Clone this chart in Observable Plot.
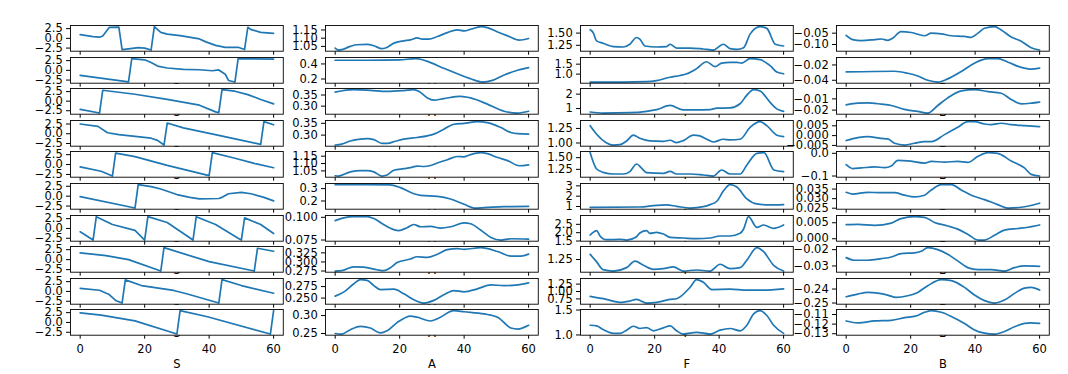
<!DOCTYPE html>
<html><head><meta charset="utf-8">
<script src="https://cdn.jsdelivr.net/npm/d3@7"></script>
<script src="https://cdn.jsdelivr.net/npm/@observablehq/plot@0.6"></script>
<style>
html,body{margin:0;padding:0;background:#fff;}
#chart{position:relative;width:1068px;height:374px;overflow:hidden;background:#fff;}
#chart svg{position:absolute;}
</style></head><body><div id="chart"></div>
<script>
// ---- data: [x, value] pairs ----
const s1 = [[0,0.95],[2,0.7],[4,0.45],[6,0.3],[7,0.6],[8,1.7],[9,2.8],[12,2.9],[13,-2.9],[15,-2.7],[18,-2.4],[20,-2.5],[22,-3.0],[23,3.0],[25,1.55],[27,1.1],[31,0.7],[37,-0.15],[39,-0.9],[42,-1.8],[45,-2.3],[49,-2.3],[51,-2.85],[52,2.85],[53,2.25],[56,1.55],[60,1.3]];
const s2 = [[0,-1.3],[15,-2.95],[16,3.0],[20,2.7],[22,2.0],[24,1.1],[27,0.6],[32,0.25],[37,0.15],[41,-0.1],[43,0.1],[45,-1.0],[46,-2.6],[48,-3.0],[49,3.0],[60,2.9]];
const s3 = [[0,-2.15],[6,-3.1],[7,2.85],[17,1.8],[27,0.45],[37,-1.05],[42,-2.8],[43,-3.0],[44,3.0],[48,2.6],[52,1.7],[56,0.45],[60,-0.7]];
const s4 = [[0,2.5],[5.5,1.9],[8.5,0.25],[12,-0.25],[22,-1.15],[24,-1.7],[26,-2.9],[27,2.75],[32,1.5],[43,-0.4],[56,-2.75],[57,3.1],[60,2.3]];
const s5 = [[0,-0.6],[6.5,-1.7],[10,-2.9],[11,2.9],[17,2.0],[27,-0.2],[40,-2.8],[41,3.0],[48,1.6],[54,0.3],[60,-0.8]];
const s6 = [[0,-0.1],[17,-3.0],[18,2.9],[22,2.4],[25,1.8],[30,0.4],[34,-0.3],[37,-0.7],[43,-0.6],[44,-0.3],[46,0.6],[50,0.95],[53,0.6],[57,-0.3],[60,-1.2]];
const s7 = [[0,-0.85],[4,-2.95],[5,3.0],[10,1.0],[17,-0.5],[20,-2.95],[21,3.0],[27,1.5],[35,-2.95],[36,3.0],[42,1.0],[49,-2.5],[50,-2.95],[51,2.7],[56,1.0],[60,-1.3]];
const s8 = [[0,1.7],[8,1.0],[15,0.0],[25,-2.85],[26,3.0],[40,-0.5],[54,-2.85],[55,2.85],[60,2.1]];
const s9 = [[0,0.8],[6,0.3],[9,-0.8],[11,-2.3],[13,-2.95],[14,2.95],[19,1.5],[29,0.25],[33,-0.6],[43,-2.95],[44,3.0],[50,1.5],[60,-0.45]];
const s10 = [[0,2.45],[6.5,1.85],[17,0.4],[30,-2.95],[31,3.0],[39.5,1.45],[59,-2.95],[60,3.0]];

const a1 = [[0,1.04],[1,1.028],[2,1.03],[4.7,1.05],[6.7,1.06],[9.9,1.062],[12,1.054],[14.5,1.036],[15.6,1.04],[18.2,1.07],[21.3,1.084],[23.4,1.09],[25.4,1.102],[27,1.094],[29,1.094],[31.7,1.11],[34.8,1.134],[37.9,1.15],[40,1.144],[42,1.154],[45.2,1.17],[47.2,1.164],[50.4,1.138],[53.5,1.114],[57.1,1.088],[60,1.098]];
const a2 = [[0,0.449],[10,0.449],[20,0.455],[25,0.47],[26.5,0.462],[29.6,0.418],[33.7,0.342],[37.9,0.27],[42,0.204],[45.7,0.16],[48.8,0.182],[52.4,0.253],[56.6,0.316],[60,0.351]];
const a3 = [[0,0.363],[5.7,0.374],[10.9,0.371],[16.1,0.366],[21.3,0.37],[24.4,0.374],[26,0.366],[28.6,0.337],[30.6,0.327],[33.7,0.334],[38.9,0.344],[42,0.337],[47.2,0.309],[52.4,0.277],[56.6,0.269],[60,0.277]];
const a4 = [[0,0.258],[2,0.262],[4.7,0.275],[7.8,0.283],[9.9,0.285],[12,0.281],[14.5,0.265],[16.1,0.265],[18.7,0.274],[21.3,0.283],[25.4,0.29],[28.6,0.297],[30.6,0.304],[33.7,0.325],[36.8,0.346],[40,0.35],[44.1,0.357],[47.2,0.353],[51.4,0.332],[54.5,0.311],[56.6,0.306],[60,0.304]];
const a5 = [[0,1.017],[1,1.015],[4.7,1.043],[7.8,1.052],[9.9,1.052],[12,1.043],[14.5,1.015],[16.1,1.022],[18.2,1.054],[21.3,1.065],[23.4,1.072],[25.4,1.083],[27.5,1.08],[29.6,1.087],[31.7,1.104],[34.8,1.126],[37.9,1.148],[40,1.146],[42,1.161],[45.2,1.174],[47.2,1.167],[50.4,1.141],[53.5,1.12],[57.1,1.085],[60,1.091]];
const a6 = [[0,0.332],[10,0.332],[17,0.33],[20.2,0.308],[24.4,0.259],[26.5,0.246],[31.7,0.238],[35.8,0.216],[40,0.173],[43.1,0.143],[46.2,0.146],[52.4,0.154],[60,0.157]];
const a7 = [[0,0.0964],[2.6,0.0993],[5.7,0.1007],[9.9,0.1007],[12,0.0986],[15,0.0921],[18.2,0.0864],[19.7,0.0854],[22.3,0.0886],[24.4,0.0921],[26.5,0.0896],[29.6,0.09],[32.7,0.0882],[35.8,0.0896],[40,0.0939],[42,0.0929],[45.2,0.0857],[48.3,0.0779],[51.4,0.075],[54.5,0.0764],[60,0.076]];
const a8 = [[0,0.275],[2,0.2759],[5.7,0.2866],[8.8,0.2857],[13,0.2786],[15,0.276],[17.1,0.2839],[19.2,0.2982],[23.4,0.308],[25.4,0.3143],[28.6,0.3125],[31.7,0.3214],[34.8,0.3339],[37.9,0.3366],[40,0.3348],[45.2,0.3393],[50.4,0.3286],[54.5,0.3161],[57.6,0.3161],[60,0.3214]];
const a9 = [[0,0.2543],[2.6,0.2629],[5.7,0.2807],[7.8,0.29],[9.9,0.2886],[12,0.2771],[14,0.2686],[18.2,0.2693],[21.3,0.2593],[24.4,0.2464],[27.5,0.2393],[30.6,0.245],[33.7,0.2571],[36.8,0.2664],[40,0.2636],[44.1,0.27],[48.3,0.2786],[52.4,0.2771],[56.6,0.2786],[60,0.2829]];
const a10 = [[0,0.25],[2,0.2485],[4.7,0.2606],[7.8,0.2697],[10.9,0.2652],[14,0.2515],[16.1,0.2576],[19.2,0.2803],[23.4,0.2985],[25.4,0.2955],[29.6,0.2848],[32,0.2924],[36.8,0.3136],[40,0.3106],[46.2,0.3045],[50.4,0.2955],[54.5,0.2652],[56.6,0.2621],[60,0.2727]];

const f1 = [[0,1.569],[0.9,1.514],[2,1.34],[4,1.292],[7.2,1.222],[10.3,1.215],[12.3,1.271],[14.4,1.41],[15.4,1.375],[17,1.236],[20.6,1.215],[23.7,1.222],[24.8,1.271],[26.8,1.194],[31,1.194],[35.1,1.174],[38.2,1.153],[41.3,1.271],[43.4,1.181],[45.5,1.167],[47.6,1.201],[49.6,1.479],[52.7,1.632],[54.8,1.597],[57.4,1.271],[60,1.236]];
const f2 = [[0,0.603],[10,0.603],[17.5,0.621],[20.6,0.672],[24.8,0.845],[27.9,0.931],[30,1.017],[33,1.276],[36.1,1.621],[38.7,1.379],[40.8,1.552],[43.4,1.586],[45.5,1.586],[47,1.552],[49.6,1.776],[52.7,1.724],[55.9,1.414],[57.9,1.103],[60,1.017]];
const f3 = [[0,0.762],[4,0.69],[12.3,0.714],[17.5,0.81],[20.6,0.929],[24.8,1.214],[28.9,0.905],[33,0.905],[37.2,0.929],[39.3,1.024],[43.4,1.048],[46.5,1.333],[48.6,1.929],[50.7,2.31],[52.7,2.214],[55.9,1.405],[57.9,0.976],[60,0.81]];
const f4 = [[0,1.297],[2,1.151],[5,1.006],[7.2,0.965],[9.2,0.971],[11.3,1.035],[13.4,1.134],[15.4,1.081],[18.5,1.035],[22.7,1.029],[24.8,1.047],[26.8,1.006],[28.9,1.041],[32,1.134],[34,1.122],[36.2,1.064],[38.2,1.017],[41.3,1.064],[43.4,1.052],[46.5,1.064],[49.6,1.267],[52.7,1.366],[54.8,1.297],[57.9,1.134],[60,1.11]];
const f5 = [[0,1.607],[2,1.257],[4,1.186],[7.2,1.15],[10.3,1.15],[12.3,1.2],[14.4,1.364],[16,1.271],[17.5,1.179],[22.7,1.164],[24.8,1.207],[26.8,1.15],[31,1.15],[35.1,1.129],[38.2,1.107],[40.8,1.236],[43.4,1.15],[46.5,1.15],[48.6,1.343],[51.7,1.593],[53.9,1.607],[57,1.236],[60,1.2]];
const f6 = [[0,0.918],[15.4,0.951],[20.6,1.115],[23.7,1.148],[26.8,1.016],[31,0.852],[35.1,0.984],[37.2,1.18],[39.3,1.508],[41.3,2.492],[43.4,3.115],[45.5,2.885],[48.6,1.738],[51.7,1.246],[55.9,1.148],[60,1.18]];
const f7 = [[0,1.86],[0.9,2.02],[2,2.12],[3,1.82],[5,1.58],[9.2,1.6],[11.3,1.56],[14.4,1.76],[15.4,1.98],[17.5,2.12],[18.5,1.96],[20.6,2.02],[22.7,1.92],[24.8,1.72],[28.9,1.68],[33,1.64],[37.2,1.68],[40.3,1.8],[43.4,1.8],[46.5,1.96],[47.6,2.22],[49.1,2.96],[51.7,2.32],[53.8,2.46],[56.9,2.26],[60,2.46]];
const f8 = [[0,1.349],[2,1.204],[4,1.053],[7.2,1.026],[11.3,1.092],[13.9,1.217],[16.5,1.138],[19.6,1.059],[22.7,1.072],[25.8,1.105],[28.9,1.026],[33,1.046],[37.2,1.026],[40.3,1.158],[43.4,1.072],[46.5,1.092],[48.6,1.237],[51.7,1.48],[53.8,1.401],[56.9,1.138],[60,1.026]];
const f9 = [[0,0.833],[5,0.733],[9.2,0.633],[12.3,0.678],[14.4,0.733],[17.5,0.611],[20.6,0.633],[24.8,0.733],[26.8,0.756],[31,1.144],[33,1.4],[35.1,1.311],[37.7,1.067],[43.4,1.078],[48.6,1.044],[53.8,1.044],[60,1.089]];
const f10 = [[0,1.195],[2,1.182],[4,1.11],[7.2,1.032],[9.2,1.032],[11.3,1.097],[13.4,1.175],[15.4,1.13],[17.5,1.149],[19.6,1.084],[22.7,1.143],[24.8,1.182],[26.8,1.084],[28.9,1.019],[33,1.052],[37.2,1.019],[40.3,1.097],[43.4,1.13],[46.5,1.084],[48.6,1.195],[50.7,1.422],[52.7,1.487],[54.8,1.39],[56.9,1.195],[60,1.032]];

const b1 = [[0,-0.06],[2,-0.0786],[4.7,-0.0829],[8.8,-0.0786],[10.9,-0.0757],[12.9,-0.0814],[14.5,-0.0714],[17,-0.0429],[20.2,-0.0471],[24.3,-0.0614],[26.4,-0.05],[29.5,-0.0529],[32.6,-0.0614],[36.7,-0.0643],[38.8,-0.0686],[40.9,-0.05],[42.9,-0.0286],[46,-0.0214],[48.1,-0.0357],[51.2,-0.0671],[54.3,-0.0857],[57.4,-0.1143],[60,-0.1243]];
const b2 = [[0,-0.0291],[15,-0.0282],[19.1,-0.0309],[22.2,-0.0345],[25.3,-0.04],[28.4,-0.0423],[31.5,-0.0382],[35.7,-0.0286],[39.8,-0.0177],[44,-0.0118],[47,-0.0118],[50.2,-0.0164],[54.3,-0.0232],[57.4,-0.0255],[60,-0.0241]];
const b3 = [[0,-0.0153],[3.6,-0.0138],[6.7,-0.0135],[10.9,-0.0147],[14,-0.0159],[18.1,-0.0194],[22.2,-0.0212],[25.3,-0.0226],[28.4,-0.0159],[31.5,-0.0091],[35.7,-0.0029],[39.8,-0.0018],[44,-0.0035],[48.1,-0.005],[51.2,-0.0106],[54.3,-0.0144],[57.4,-0.0138],[60,-0.0129]];
const b4 = [[0,-0.0025],[3.6,-0.001],[6.7,-0.0005],[10.9,-0.0014],[12.9,-0.0017],[15,-0.0039],[18.1,-0.0048],[21.2,-0.0039],[24.3,-0.0031],[26.4,-0.0031],[30.5,0.0005],[34.6,0.0042],[37.7,0.0071],[39.8,0.0071],[42.9,0.0059],[45,0.0056],[48.1,0.0063],[51.2,0.0056],[55.3,0.0051],[60,0.0046]];
const b5 = [[0,-0.05],[2,-0.0671],[4.7,-0.0643],[8.8,-0.06],[11.9,-0.0629],[14,-0.0557],[16,-0.0314],[19.1,-0.0329],[24.3,-0.0429],[26.4,-0.0357],[30.5,-0.0386],[34.6,-0.0357],[37.7,-0.04],[40.9,-0.0129],[44,0.0029],[47,0.0],[51.2,-0.0343],[55.3,-0.0643],[57.4,-0.0929],[60,-0.1]];
const b6 = [[0,0.0333],[2,0.0324],[6.7,0.0333],[10.9,0.0331],[15,0.0331],[18.1,0.0318],[21.2,0.0309],[24.3,0.0318],[26.4,0.0345],[29.5,0.0373],[32.6,0.0373],[35.7,0.0345],[38.8,0.0318],[42.9,0.0295],[47,0.0269],[50.2,0.0251],[54.3,0.0255],[60,0.0276]];
const b7 = [[0,0.0044],[3.6,0.0045],[8.8,0.0042],[14,0.0049],[17,0.0063],[21.2,0.0069],[24.3,0.0067],[27.4,0.0051],[31.5,0.004],[34.6,0.003],[37.7,0.0014],[40.9,-0.0004],[42.9,-0.0004],[46,0.0011],[49.1,0.0027],[53.3,0.0032],[56.4,0.0036],[60,0.0043]];
const b8 = [[0,-0.0249],[2.6,-0.0265],[6.7,-0.0265],[10.9,-0.0255],[14,-0.0245],[17,-0.0224],[21.2,-0.022],[23.3,-0.021],[25.3,-0.0188],[28.4,-0.02],[31.5,-0.0229],[34.6,-0.0269],[37.7,-0.031],[40.9,-0.0322],[45,-0.0322],[49.1,-0.0331],[52.2,-0.031],[55.3,-0.03],[60,-0.0302]];
const b9 = [[0,-0.2455],[3.6,-0.2436],[6.7,-0.2424],[9.8,-0.2429],[12.9,-0.2443],[15.5,-0.246],[19.1,-0.2448],[22.2,-0.2424],[25.3,-0.2376],[29.5,-0.2333],[32.6,-0.234],[36.7,-0.2388],[39.8,-0.2443],[42.9,-0.2483],[46,-0.25],[49.1,-0.2479],[52.2,-0.2431],[55.3,-0.2393],[57.4,-0.2388],[60,-0.2407]];
const b10 = [[0,-0.1167],[3.6,-0.1187],[8.8,-0.1167],[14,-0.116],[18.1,-0.1133],[22.2,-0.111],[24.3,-0.1077],[26.4,-0.106],[29.5,-0.1077],[32.6,-0.112],[36.7,-0.1193],[39.8,-0.126],[42.9,-0.1293],[46,-0.1303],[49.1,-0.1277],[52.2,-0.1227],[55.3,-0.1193],[57.4,-0.1187],[60,-0.1193]];

// ---- tick labels ----
const xTicks = [0, 20, 40, 60];
const yTicksS = Array.from({length: 10}, () => ["−2.5", "0.0", "2.5"]);
const yTicksA = [["1.05","1.10","1.15"],["0.2","0.4"],["0.30","0.35"],["0.30","0.35"],["1.05","1.10","1.15"],["0.2","0.3"],["0.075","0.100"],["0.275","0.300","0.325"],["0.250","0.275"],["0.25","0.30"]];
const yTicksF = [["1.25","1.50"],["1.0","1.5"],["1","2"],["1.00","1.25"],["1.25","1.50"],["1","2","3"],["1.5","2.0","2.5"],["1.00","1.25"],["0.75","1.00","1.25"],["1.0","1.5"]];
const yTicksB = [["−0.10","−0.05"],["−0.04","−0.02"],["−0.02","−0.01"],["−0.005","0.000","0.005"],["−0.1","0.0"],["0.025","0.030","0.035"],["0.000","0.005"],["−0.03","−0.02"],["−0.25","−0.24"],["−0.13","−0.12","−0.11"]];
const colNames = ["S", "A", "F", "B"];

const columns = [
  {name: colNames[0], series: [s1,s2,s3,s4,s5,s6,s7,s8,s9,s10], ticks: yTicksS, curve: "linear"},
  {name: colNames[1], series: [a1,a2,a3,a4,a5,a6,a7,a8,a9,a10], ticks: yTicksA, curve: "monotone-x"},
  {name: colNames[2], series: [f1,f2,f3,f4,f5,f6,f7,f8,f9,f10], ticks: yTicksF, curve: "monotone-x"},
  {name: colNames[3], series: [b1,b2,b3,b4,b5,b6,b7,b8,b9,b10], ticks: yTicksB, curve: "monotone-x"}
];

// ---- layout ----
const colLeft = [69.6, 325, 580.3, 835.6];
const frameW = 212.8, frameH = 25.7, rowTop0 = 25, rowPitch = 31.6;
const ML = 60, MR = 4, MT = 4, MB = 44;
const FONT = "11.5px";
const chart = document.getElementById("chart");

columns.forEach((col, c) => {
  col.series.forEach((data, r) => {
    const vals = data.map(d => d[1]);
    const lo = d3.min(vals), hi = d3.max(vals), pad = (hi - lo) * 0.05;
    const dom = [lo - pad, hi + pad];
    const labels = col.ticks[r];
    const tv = labels.map(s => +s.replace("−", "-"));
    const fmt = new Map(tv.map((v, i) => [v, labels[i]]));
    const isBottom = r === col.series.length - 1;
    const svg = Plot.plot({
      width: ML + frameW + MR,
      height: MT + frameH + MB,
      marginLeft: ML, marginRight: MR, marginTop: MT, marginBottom: MB,
      style: {background: "transparent", overflow: "visible", fontFamily: "'DejaVu Sans', sans-serif", fontSize: FONT, color: "black"},
      x: {domain: [-3, 63], ticks: xTicks, tickSize: 4, tickPadding: 6, tickFormat: isBottom ? (d => String(d)) : (() => ""), label: null},
      y: {domain: dom, ticks: tv.filter(v => v >= dom[0] && v <= dom[1]), tickSize: 4, tickPadding: 3.8, tickFormat: d => fmt.get(d), label: null},
      marks: [
        Plot.frame({fill: "white"}),
        Plot.line(data, {x: d => d[0], y: d => d[1], stroke: "#1f77b4", strokeWidth: 1.7, curve: col.curve}),
        Plot.frame({stroke: "black", strokeWidth: 0.9}),
        Plot.text([col.name], {frameAnchor: "bottom", dy: 33, lineAnchor: "bottom", text: d => d, fontSize: 11.5, fill: "black"})
      ]
    });
    svg.style.left = (colLeft[c] - ML) + "px";
    svg.style.top = (rowTop0 + r * rowPitch - MT) + "px";
    chart.appendChild(svg);
  });
});
</script></body></html>
